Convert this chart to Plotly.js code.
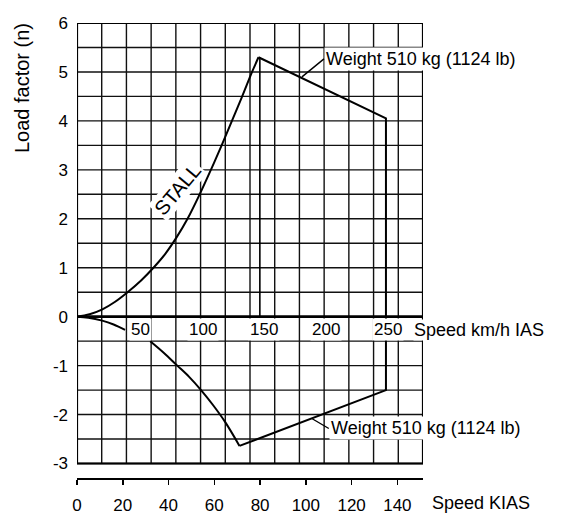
<!DOCTYPE html>
<html>
<head>
<meta charset="utf-8">
<script src="https://cdn.plot.ly/plotly-3.0.1.min.js"></script>
<style>html,body{margin:0;padding:0;background:#fff;}#chart{width:567px;height:521px;}</style>
</head>
<body>
<div id="chart"></div>
<script>
// ---- data ----
const kiasTicks = [0, 20, 40, 60, 80, 100, 120, 140];
const kmhLabels = [50, 100, 150, 200, 250];
const nTicks = [-3, -2, -1, 0, 1, 2, 3, 4, 5, 6];

// positive stall curve (KIAS, n)
const stallPosKias = [0, 5.5, 11.1, 16.5, 22.1, 28, 33.4, 38.5, 43.5, 48.3, 53.5, 58.5, 63.3, 67.7, 72, 76.5, 79.3];
const stallPosN    = [0, 0.05, 0.15, 0.3, 0.5, 0.74, 1.0, 1.28, 1.62, 2.0, 2.49, 3.0, 3.51, 4.0, 4.48, 5.0, 5.3];
// negative stall curve (gap where the km/h scale strip interrupts it)
const stallNegKias = [0, 5, 11, 16, 21, null, 32, 38, 43.6, 49, 54.2, 59.5, 64.7, 71];
const stallNegN    = [0, -0.02, -0.08, -0.16, -0.27, null, -0.5, -0.74, -0.99, -1.23, -1.5, -1.81, -2.15, -2.64];
// structural envelope
const envKias = [79.3, 135, 135, 71];
const envN    = [5.3, 4.05, -1.5, -2.64];
// manoeuvring speed line
const vaKias = [79.9, 79.9];
const vaN    = [5.3, 0];

const weightLabel = "Weight 510 kg (1124 lb)";
const upperLabelPoint = [98.3, 4.9];
const lowerLabelPoint = [102.6, -2.08];

// ---- layout ----
const KMH_TO_KT = 1 / 1.852;
const xMax = 280 * KMH_TO_KT;
const FONT = "Liberation Sans, Arial, Helvetica, sans-serif";

const shapes = [];
for (let k = 0; k <= 280; k += 20) {
  shapes.push({type: 'line', layer: 'below', xref: 'x', yref: 'y', x0: k * KMH_TO_KT, x1: k * KMH_TO_KT, y0: -3, y1: 6,
    line: {color: '#111', width: 1.4}});
}
for (let n = -3; n <= 6.001; n += 0.5) {
  shapes.push({type: 'line', layer: 'below', xref: 'x', yref: 'y', x0: 0, x1: xMax, y0: n, y1: n,
    line: {color: '#111', width: 1.4}});
}
shapes.push({type: 'rect', layer: 'below', xref: 'x', yref: 'y', x0: 0, x1: xMax, y0: -3, y1: 6,
  line: {color: '#000', width: 2.2}});
shapes.push({type: 'line', layer: 'below', xref: 'x', yref: 'y', x0: 0, x1: xMax, y0: 0, y1: 0,
  line: {color: '#000', width: 2.6}});

const lineStyle = {color: '#000', width: 2};
const traces = [
  {x: stallPosKias, y: stallPosN, mode: 'lines', line: Object.assign({shape: 'spline', smoothing: 1}, lineStyle), hoverinfo: 'skip'},
  {x: stallNegKias, y: stallNegN, mode: 'lines', connectgaps: false, line: Object.assign({shape: 'spline', smoothing: 1}, lineStyle), hoverinfo: 'skip'},
  {x: envKias, y: envN, mode: 'lines', line: lineStyle, hoverinfo: 'skip'},
  {x: vaKias, y: vaN, mode: 'lines', line: {color: '#000', width: 1.6}, hoverinfo: 'skip'}
];

const annotations = [];
kmhLabels.forEach(v => {
  annotations.push({x: v * KMH_TO_KT, y: -0.27, xref: 'x', yref: 'y', text: String(v), showarrow: false,
    xanchor: 'center', yanchor: 'middle', xshift: 2, bgcolor: '#fff', borderpad: 1,
    font: {family: FONT, size: 17, color: '#000'}});
});
annotations.push({x: 147, y: -0.27, xref: 'x', yref: 'y', text: 'Speed km/h IAS', showarrow: false,
  xanchor: 'left', yanchor: 'middle', bgcolor: '#fff', borderpad: 0,
  font: {family: FONT, size: 18, color: '#000'}});
annotations.push({x: 1.0202, y: -0.055, xref: 'paper', yref: 'paper', text: 'Speed KIAS', showarrow: false,
  xanchor: 'left', yanchor: 'middle', font: {family: FONT, size: 18, color: '#000'}});
annotations.push({x: -0.159, y: 4.67, xref: 'paper', yref: 'y', text: 'Load factor (n)', showarrow: false,
  textangle: -90, xanchor: 'center', yanchor: 'middle', font: {family: FONT, size: 20, color: '#000'}});
annotations.push({x: 44.2, y: 2.6, xref: 'x', yref: 'y', text: 'STALL', showarrow: false,
  textangle: -50, xanchor: 'center', yanchor: 'middle', bgcolor: '#fff', borderpad: 1,
  font: {family: FONT, size: 20, color: '#000'}});
annotations.push({x: upperLabelPoint[0], y: upperLabelPoint[1], xref: 'x', yref: 'y', text: weightLabel,
  showarrow: true, arrowhead: 0, arrowwidth: 1.4, arrowcolor: '#000', ax: 22, ay: -18,
  xanchor: 'left', yanchor: 'middle', bgcolor: '#fff', borderpad: 1,
  font: {family: FONT, size: 18, color: '#000'}});
annotations.push({x: lowerLabelPoint[0], y: lowerLabelPoint[1], xref: 'x', yref: 'y', text: weightLabel,
  showarrow: true, arrowhead: 0, arrowwidth: 1.4, arrowcolor: '#000', ax: 17, ay: 10,
  xanchor: 'left', yanchor: 'middle', bgcolor: '#fff', borderpad: 1,
  font: {family: FONT, size: 18, color: '#000'}});

const layout = {
  width: 567, height: 521,
  margin: {l: 77, r: 144, t: 23, b: 43},
  paper_bgcolor: '#fff', plot_bgcolor: '#fff',
  showlegend: false,
  font: {family: FONT, color: '#000', size: 17},
  xaxis: {range: [0, xMax], showgrid: false, zeroline: false, showline: true, linecolor: '#000', linewidth: 2,
    ticks: 'outside', ticklen: 5, tickwidth: 1.5, tickcolor: '#000',
    tickvals: kiasTicks, ticktext: kiasTicks.map(String), ticklabelstandoff: 6,
    tickfont: {family: FONT, size: 17, color: '#000'}, fixedrange: true},
  yaxis: {range: [-3.296, 6], showgrid: false, zeroline: false, showline: false, ticks: '',
    tickvals: nTicks, ticktext: nTicks.map(String), ticklabelstandoff: 8,
    tickfont: {family: FONT, size: 17, color: '#000'}, fixedrange: true},
  shapes: shapes,
  annotations: annotations
};

Plotly.newPlot('chart', traces, layout, {staticPlot: true, displayModeBar: false});
</script>
</body>
</html>
